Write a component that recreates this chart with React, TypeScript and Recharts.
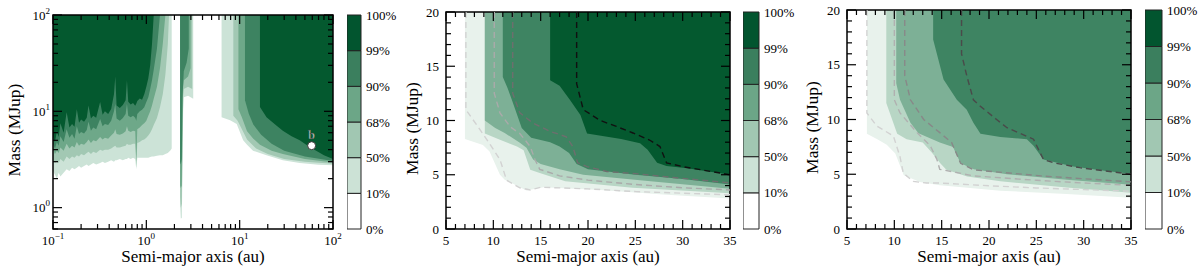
import {
  Area,
  Bar,
  BarChart,
  ComposedChart,
  Label,
  Line,
  ReferenceArea,
  ReferenceDot,
  XAxis,
  YAxis,
} from 'recharts';

const FONT = '"Liberation Serif", "Times New Roman", serif';
const H = 274;

type Pt = [number, number];

// colour bar
const LEVEL_TICKS = ['0%', '10%', '50%', '68%', '90%', '99%', '100%'];
const LEVEL_STEPS = [1, 1, 1, 1, 1, 1];
const BAR_COLOURS = ['#ffffff', '#cce2d6', '#a1c7b2', '#6ca687', '#3b7f5e', '#02552f'];

// ---- panel 1 (log-log), left block: shared a grid, lower mass edge per level
const P1_LEFT_A = [
  0.1, 0.105, 0.11, 0.115, 0.12, 0.13, 0.14, 0.15, 0.16, 0.17, 0.18, 0.19, 0.2, 0.215, 0.23, 0.24, 0.255, 0.27,
  0.29, 0.32, 0.34, 0.36, 0.39, 0.42, 0.45, 0.465, 0.48, 0.52, 0.56, 0.6, 0.62, 0.64, 0.68, 0.72, 0.76, 0.78, 0.8,
  0.85, 0.9, 0.95, 1.0, 1.05, 1.1, 1.15, 1.2, 1.3, 1.4, 1.5, 1.6, 1.7, 1.75, 1.8, 1.87,
];
const P1_LEFT_99 = [
  5.5, 4.8, 6.2, 5.4, 7.5, 6.0, 9.8, 6.8, 7.4, 6.9, 10.5, 7.6, 8.2, 7.8, 8.6, 11.5, 8.4, 9.0, 8.6, 12.5, 9.2, 10.0,
  9.4, 10.6, 15.0, 23.0, 11.5, 10.8, 11.6, 13.0, 21.0, 12.6, 11.8, 12.2, 11.4, 12.0, 12.8, 13.6, 13.2, 15.0, 18.0,
  22.0, 30.0, 50.0, 100,
];
const P1_LEFT_90 = [
  4.6, 4.1, 4.8, 4.4, 5.5, 4.8, 6.5, 5.3, 5.8, 5.2, 7.0, 5.8, 6.1, 5.9, 6.4, 7.8, 6.3, 6.8, 6.5, 8.3, 7.0, 7.4, 7.2,
  8.0, 10.0, 12.0, 8.4, 8.0, 8.5, 9.4, 12.0, 9.0, 8.7, 9.0, 8.6, 8.0, 9.4, 10.0, 10.4, 11.0, 12.5, 14.0, 17.0, 21.0,
  27.0, 45.0, 100,
];
const P1_LEFT_68 = [
  4.0, 3.6, 3.9, 3.7, 4.2, 3.9, 4.6, 4.1, 4.4, 4.2, 4.8, 4.4, 4.6, 4.5, 4.8, 5.1, 4.7, 5.0, 4.9, 5.4, 5.1, 5.3, 5.2,
  5.6, 6.0, 6.5, 5.8, 5.7, 5.9, 6.2, 7.0, 6.3, 6.1, 6.3, 6.2, 3.0, 6.5, 6.8, 7.2, 7.5, 8.0, 9.0, 10.0, 11.5, 13.5,
  18.0, 28.0, 50.0, 100,
];
const P1_LEFT_50 = [
  3.1, 2.9, 3.0, 2.9, 3.2, 3.0, 3.4, 3.2, 3.4, 3.3, 3.5, 3.4, 3.6, 3.5, 3.7, 3.8, 3.6, 3.8, 3.7, 4.0, 3.9, 4.0, 4.0,
  4.1, 4.3, 4.4, 4.2, 4.2, 4.3, 4.4, 4.6, 4.5, 4.5, 4.6, 4.6, 2.6, 4.7, 4.8, 5.0, 5.1, 5.3, 5.6, 6.0, 6.5, 7.2, 8.5,
  11.0, 15.0, 24.0, 50.0, 100,
];
const P1_LEFT_10 = [
  2.4, 2.2, 2.0, 2.3, 2.1, 2.3, 2.5, 2.4, 2.6, 2.5, 2.6, 2.7, 2.6, 2.7, 2.8, 2.7, 2.8, 2.9, 2.8, 2.9, 3.0, 2.9, 3.0,
  3.1, 3.0, 3.1, 3.1, 3.2, 3.1, 3.2, 3.2, 3.3, 3.2, 3.3, 3.2, 2.5, 3.3, 3.3, 3.3, 3.3, 3.3, 3.3, 3.35, 3.4, 3.4, 3.45,
  3.5, 3.5, 3.6, 3.7, 3.8, 3.9, 4.1,
];

// panel 1, narrow strip near 2.5 au
const P1_MID_90: Pt[] = [[2.3, 3.0], [2.34, 2.8], [2.4, 3.2], [2.44, 14], [2.52, 26], [2.7, 32], [2.85, 45]];
const P1_MID_68: Pt[] = [[2.3, 1.7], [2.34, 1.6], [2.4, 1.7], [2.44, 8], [2.48, 18], [2.52, 21], [2.8, 23], [2.98, 28]];
const P1_MID_50: Pt[] = [[2.3, 1.3], [2.34, 1.0], [2.4, 1.1], [2.44, 4], [2.48, 14], [2.52, 17], [2.8, 18], [3.1, 17]];
const P1_MID_10: Pt[] = [[2.3, 1.1], [2.34, 0.77], [2.4, 0.78], [2.44, 2.5], [2.48, 10], [2.52, 14], [2.8, 14.5], [3.18, 13.5]];

// panel 1, outer block
const P1_RIGHT_99: Pt[] = [[16.5, 11.1], [19.4, 8.7], [24, 7.3], [29, 6.3], [36, 5.5], [44, 5.0], [55, 4.3], [66, 3.9], [80, 3.5], [100, 3.2]];
const P1_RIGHT_90: Pt[] = [[11.4, 13], [12.5, 9.5], [14, 7.3], [17, 5.7], [22, 4.6], [30, 3.9], [50, 3.4], [100, 3.05]];
const P1_RIGHT_68: Pt[] = [[9.7, 10.5], [10.5, 8.8], [12, 6.2], [14, 5.2], [16.5, 4.5], [22, 3.9], [29, 3.6], [50, 3.2], [100, 2.95]];
const P1_RIGHT_50: Pt[] = [[8.55, 9.0], [9.5, 8.0], [10.5, 6.6], [12, 5.1], [15, 4.1], [20, 3.6], [30, 3.2], [50, 3.0], [100, 2.85]];
const P1_RIGHT_10: Pt[] = [[6.4, 8.7], [7.9, 8.1], [9.3, 7.4], [10.9, 5.0], [12, 4.5], [13.9, 3.9], [19.4, 3.5], [29, 3.1], [44, 2.9], [70, 2.78], [100, 2.75]];

const P1_PLANET = { a: 59, m: 4.4, name: 'b' };

// ---- panel 2
const P2_99: Pt[] = [[16, 13.7], [17, 13.2], [18.1, 11.9], [19.2, 10.5], [19.9, 8.8], [23.5, 8.3], [25.5, 7.9], [26.3, 7.3], [27.3, 6.1], [28.3, 5.8], [30.5, 5.6], [35, 5.0]];
const P2_90: Pt[] = [[11, 14], [11.5, 13], [12, 11.8], [13, 9.3], [14, 8.4], [16, 8.0], [17, 7.6], [18, 7.0], [18.8, 6.0], [20, 5.5], [25, 5.0], [30, 4.6], [35, 4.1]];
const P2_68: Pt[] = [[9.1, 10.0], [10.2, 9.3], [11.2, 8.85], [12.8, 7.95], [13.5, 7.5], [14.2, 6.4], [15, 6.0], [17, 5.5], [19.5, 5.0], [25.5, 4.5], [35, 3.7]];
const P2_50: Pt[] = [[9.1, 8.8], [10.5, 8.3], [12.5, 7.6], [13.2, 7.25], [13.9, 5.45], [14.9, 5.15], [17.6, 4.4], [24.7, 3.8], [35, 3.3]];
const P2_10: Pt[] = [[7, 8.3], [8.9, 7.75], [9.6, 7.15], [10.7, 5.0], [11.2, 4.55], [13.5, 3.55], [15.3, 3.85], [21.3, 3.6], [28.3, 3.15], [35, 2.8]];
const P2_DASH_A: Pt[] = [[7.1, 20], [7.1, 11], [8.4, 9.4], [9.5, 8.0], [10.7, 6.4], [11.4, 4.5], [12.8, 3.8], [13.9, 3.6], [15, 3.85], [20, 3.7], [25, 3.45], [30, 3.3], [35, 3.15]];
const P2_DASH_B: Pt[] = [[10.1, 20], [10.1, 12.5], [10.7, 10.7], [11.8, 9.4], [12.8, 8.8], [13.9, 7.6], [14.4, 6.4], [14.9, 5.5], [17, 4.9], [20, 4.5], [25, 4.1], [30, 3.8], [35, 3.6]];
const P2_DASH_C: Pt[] = [[12.05, 20], [12.05, 12.5], [12.8, 10.7], [14.2, 9.75], [16, 9.0], [17.7, 8.5], [18.4, 7.6], [18.9, 6.1], [19.9, 5.75], [22, 5.3], [25, 5.1], [29, 4.75], [35, 4.25]];
const P2_DASH_D: Pt[] = [[18.8, 20], [18.8, 13.4], [19.5, 11.0], [21.3, 10.0], [23, 9.45], [24.75, 8.85], [26.5, 8.2], [27.6, 7.6], [28.3, 6.1], [30, 5.75], [35, 5.0]];

// ---- panel 3
const P3_90: Pt[] = [[14.1, 17.3], [15.2, 13.65], [16.6, 11.8], [17.65, 10.9], [18.35, 9.7], [19.1, 8.7], [21.2, 8.4], [24, 8.2], [24.7, 7.6], [25.75, 6.35], [28.9, 5.7], [32.4, 5.3], [35, 5.05]];
const P3_68: Pt[] = [[10.2, 13.3], [10.6, 11.8], [11.7, 9.7], [12.55, 8.75], [14.8, 7.9], [16.2, 7.5], [17, 6.0], [18.4, 5.45], [21.9, 5.0], [28.2, 4.5], [35, 4.05]];
const P3_50: Pt[] = [[9.15, 11.5], [10.3, 8.7], [11.3, 8.2], [13, 7.9], [14, 6.95], [14.85, 6.0], [15.5, 5.4], [17.7, 4.8], [21.2, 4.35], [28.2, 3.8], [35, 3.3]];
const P3_10: Pt[] = [[7.1, 8.7], [8.2, 8.2], [9.2, 7.7], [10.1, 6.9], [11, 4.9], [12.7, 4.3], [14.8, 4.0], [21.2, 3.5], [28.2, 3.2], [35, 2.85]];
const P3_DASH_A: Pt[] = [[7.1, 20], [7.1, 10.6], [8.15, 9.4], [9.9, 8.5], [10.6, 6.6], [10.95, 5.1], [12, 4.35], [13.4, 4.2], [14.8, 4.2], [20, 3.95], [25, 3.75], [30, 3.6], [35, 3.45]];
const P3_DASH_B: Pt[] = [[10, 20], [10, 11.8], [10.6, 10.6], [12.4, 8.8], [13.8, 7.6], [14.5, 6.35], [14.8, 5.45], [18.4, 4.85], [25, 4.45], [30, 4.2], [35, 4.0]];
const P3_DASH_C: Pt[] = [[11.1, 20], [11.1, 14], [11.7, 11.8], [13.1, 10], [14.8, 8.8], [16.05, 7.9], [17, 6.0], [18.4, 5.4], [25.5, 4.85], [35, 4.3]];
const P3_DASH_D: Pt[] = [[17.1, 20], [17.1, 16], [17.65, 14], [18.35, 11.8], [19.1, 11.2], [20.8, 10], [21.9, 9.25], [24.7, 8.2], [25.75, 6.35], [26.8, 6.05], [29.6, 5.6], [35, 5.0]];

// ticks
const LOG_X_TICKS = [0.1, 0.2, 0.3, 0.4, 0.5, 0.6, 0.7, 0.8, 0.9, 1, 2, 3, 4, 5, 6, 7, 8, 9, 10, 20, 30, 40, 50, 60, 70, 80, 90, 100];
const LOG_X_MAJOR = [0.1, 1, 10, 100];
const LOG_Y_TICKS = [0.6, 0.7, 0.8, 0.9, 1, 2, 3, 4, 5, 6, 7, 8, 9, 10, 20, 30, 40, 50, 60, 70, 80, 90, 100];
const LOG_Y_MAJOR = [1, 10, 100];
const LIN_X_TICKS = [5, 6, 7, 8, 9, 10, 11, 12, 13, 14, 15, 16, 17, 18, 19, 20, 21, 22, 23, 24, 25, 26, 27, 28, 29, 30, 31, 32, 33, 34, 35];
const LIN_X_MAJOR = [5, 10, 15, 20, 25, 30, 35];
const LIN_Y_TICKS = [0, 1, 2, 3, 4, 5, 6, 7, 8, 9, 10, 11, 12, 13, 14, 15, 16, 17, 18, 19, 20];
const LIN_Y_MAJOR = [0, 5, 10, 15, 20];

type Cfg = {
  origin: number;
  width: number;
  plot: { l: number; r: number; t: number; b: number };
  log: boolean;
  xDomain: [number, number];
  yDomain: [number, number];
  xTicks: number[];
  xMajor: number[];
  yTicks: number[];
  yMajor: number[];
  yLabelX: number;
  bar: { l: number; r: number };
};
type Band = { pts: Pt[]; color: string };
type Dash = { pts: Pt[]; color: string };

const zip = (a: number[], m: number[]): Pt[] => m.map((v, i) => [a[i], v]);

function tickText(v: number, log: boolean, x: number, y: number, anchor: 'middle' | 'end') {
  const e = Math.round(Math.log10(v));
  return (
    <text x={x} y={y} textAnchor={anchor} fontSize={13} fontFamily={FONT} fill="#000">
      {log ? '10' : String(v)}
      {log && (
        <tspan dy={-6} fontSize={9}>
          {e < 0 ? `\u2212${-e}` : e}
        </tspan>
      )}
    </text>
  );
}

function Panel({ cfg, bands, dashes, planet }: { cfg: Cfg; bands: Band[]; dashes: Dash[]; planet?: typeof P1_PLANET }) {
  const { plot } = cfg;
  const top = cfg.yDomain[1];

  const xTick = (p: any) => {
    const v = p.payload.value;
    const major = cfg.xMajor.includes(v);
    const len = major ? 9 : 5;
    return (
      <g>
        <line x1={p.x} x2={p.x} y1={plot.b} y2={plot.b - len} stroke="#000" strokeWidth={1.2} />
        <line x1={p.x} x2={p.x} y1={plot.t} y2={plot.t + len} stroke="#000" strokeWidth={1.2} />
        {major && tickText(v, cfg.log, p.x, plot.b + 16, 'middle')}
      </g>
    );
  };
  const yTick = (p: any) => {
    const v = p.payload.value;
    const major = cfg.yMajor.includes(v);
    const len = major ? 9 : 5;
    return (
      <g>
        <line x1={plot.l} x2={plot.l + len} y1={p.y} y2={p.y} stroke="#000" strokeWidth={1.2} />
        <line x1={plot.r} x2={plot.r - len} y1={p.y} y2={p.y} stroke="#000" strokeWidth={1.2} />
        {major && tickText(v, cfg.log, plot.l - (cfg.log ? 3 : 7), p.y + 4.5, 'end')}
      </g>
    );
  };
  // rotated y title, sits a little below the plot's middle as in the source figure
  const yTitle = () => {
    const x = cfg.yLabelX + 6;
    const y = (plot.t + plot.b) / 2 + 8;
    return (
      <text x={x} y={y} transform={`rotate(-90 ${x} ${y})`} textAnchor="middle" fontSize={17.5} fontFamily={FONT} fill="#000">
        Mass (MJup)
      </text>
    );
  };

  return (
    <div style={{ position: 'absolute', left: cfg.origin, top: 0 }}>
      <ComposedChart width={cfg.width} height={H} margin={{ top: plot.t, right: cfg.width - plot.r, bottom: 0, left: 0 }}>
        <XAxis
          dataKey="a"
          type="number"
          scale={cfg.log ? 'log' : 'linear'}
          domain={cfg.xDomain}
          allowDataOverflow
          ticks={cfg.xTicks}
          interval={0}
          height={H - plot.b}
          tickSize={0}
          tickMargin={0}
          axisLine={false}
          tickLine={false}
          tick={xTick}
        >
          <Label
            value="Semi-major axis (au)"
            position="insideBottom"
            offset={12}
            fill="#000"
            style={{ fontFamily: FONT, fontSize: 17 }}
          />
        </XAxis>
        <YAxis
          type="number"
          scale={cfg.log ? 'log' : 'linear'}
          domain={cfg.yDomain}
          allowDataOverflow
          ticks={cfg.yTicks}
          interval={0}
          width={plot.l}
          tickSize={0}
          tickMargin={0}
          axisLine={false}
          tickLine={false}
          tick={yTick}
        >
          <Label value="Mass (MJup)" content={yTitle} />
        </YAxis>
        {bands.map((b, i) => (
          <Area
            key={`b${i}`}
            data={b.pts.map(([a, m]) => ({ a, band: [m, top] }))}
            dataKey="band"
            type="linear"
            stroke="none"
            fill={b.color}
            fillOpacity={1}
            dot={false}
            activeDot={false}
            isAnimationActive={false}
          />
        ))}
        {dashes.map((d, i) => (
          <Line
            key={`d${i}`}
            data={d.pts.map(([a, m]) => ({ a, m }))}
            dataKey="m"
            type="linear"
            stroke={d.color}
            strokeWidth={1.4}
            strokeDasharray="6 4"
            dot={false}
            activeDot={false}
            isAnimationActive={false}
          />
        ))}
        {planet && (
          <ReferenceDot
            x={planet.a}
            y={planet.m}
            r={4}
            fill="#fff"
            stroke="#333"
            strokeWidth={1}
            label={{ value: planet.name, position: 'top', offset: 3, fill: '#fff', stroke: '#444', strokeWidth: 0.4, fontSize: 13, fontFamily: FONT }}
          />
        )}
        <ReferenceArea
          x1={cfg.xDomain[0]}
          x2={cfg.xDomain[1]}
          y1={cfg.yDomain[0]}
          y2={cfg.yDomain[1]}
          fill="none"
          fillOpacity={0}
          stroke="#000"
          strokeWidth={1.5}
        />
      </ComposedChart>
    </div>
  );
}

function ColourBar({ left, right, t, b }: { left: number; right: number; t: number; b: number }) {
  const row: Record<string, number | string> = { name: 'levels' };
  LEVEL_STEPS.forEach((s, i) => (row[`s${i}`] = s));
  return (
    <div style={{ position: 'absolute', left, top: 0 }}>
      <BarChart width={right - left + 45} height={H} data={[row]} margin={{ top: t, right: 0, bottom: H - b, left: 0 }} barCategoryGap={0}>
        <XAxis dataKey="name" hide />
        <YAxis
          orientation="right"
          type="number"
          domain={[0, LEVEL_STEPS.length]}
          ticks={LEVEL_TICKS.map((_, i) => i)}
          interval={0}
          width={45}
          tickSize={0}
          tickMargin={5}
          axisLine={false}
          tickLine={false}
          tick={{ fill: '#000', fontSize: 13, fontFamily: FONT }}
          tickFormatter={(v: number) => LEVEL_TICKS[v]}
        />
        {LEVEL_STEPS.map((_, i) => (
          <Bar key={i} dataKey={`s${i}`} stackId="cb" fill={BAR_COLOURS[i]} stroke="#222" strokeWidth={1} isAnimationActive={false} />
        ))}
      </BarChart>
    </div>
  );
}

const P1: Cfg = {
  origin: 0,
  width: 346,
  plot: { l: 53, r: 333, t: 15, b: 229 },
  log: true,
  xDomain: [0.1, 100],
  yDomain: [0.6, 100],
  xTicks: LOG_X_TICKS,
  xMajor: LOG_X_MAJOR,
  yTicks: LOG_Y_TICKS,
  yMajor: LOG_Y_MAJOR,
  yLabelX: 14,
  bar: { l: 347, r: 361 },
};
const P2: Cfg = {
  origin: 400,
  width: 342,
  plot: { l: 46, r: 330, t: 12, b: 229 },
  log: false,
  xDomain: [5, 35],
  yDomain: [0, 20],
  xTicks: LIN_X_TICKS,
  xMajor: LIN_X_MAJOR,
  yTicks: LIN_Y_TICKS,
  yMajor: LIN_Y_MAJOR,
  yLabelX: 11.5,
  bar: { l: 743, r: 759 },
};
const P3: Cfg = { ...P2, origin: 800, plot: { l: 47, r: 331, t: 10, b: 229 }, bar: { l: 1145, r: 1162 } };

const C1 = ['#cce3d7', '#a2c8b3', '#6ea889', '#3d8361', '#04592f'];
const C2 = ['#e8f2ec', '#b8d6c5', '#7db096', '#3e8462', '#04592f'];

export default function App() {
  const p1Bands: Band[] = [
    { pts: zip(P1_LEFT_A, P1_LEFT_10), color: C1[0] },
    { pts: zip(P1_LEFT_A, P1_LEFT_50), color: C1[1] },
    { pts: zip(P1_LEFT_A, P1_LEFT_68), color: C1[2] },
    { pts: zip(P1_LEFT_A, P1_LEFT_90), color: C1[3] },
    { pts: zip(P1_LEFT_A, P1_LEFT_99), color: C1[4] },
    { pts: P1_MID_10, color: C1[0] },
    { pts: P1_MID_50, color: C1[1] },
    { pts: P1_MID_68, color: C1[2] },
    { pts: P1_MID_90, color: C1[3] },
    { pts: P1_RIGHT_10, color: C1[0] },
    { pts: P1_RIGHT_50, color: C1[1] },
    { pts: P1_RIGHT_68, color: C1[2] },
    { pts: P1_RIGHT_90, color: C1[3] },
    { pts: P1_RIGHT_99, color: C1[4] },
  ];
  const p2Bands: Band[] = [P2_10, P2_50, P2_68, P2_90, P2_99].map((pts, i) => ({ pts, color: C2[i] }));
  const p3Bands: Band[] = [P3_10, P3_50, P3_68, P3_90].map((pts, i) => ({ pts, color: C2[i] }));
  const p2Dashes: Dash[] = [
    { pts: P2_DASH_A, color: '#d2d2d2' },
    { pts: P2_DASH_B, color: '#aaaaaa' },
    { pts: P2_DASH_C, color: '#6e6e6e' },
    { pts: P2_DASH_D, color: '#111111' },
  ];
  const p3Dashes: Dash[] = [
    { pts: P3_DASH_A, color: '#d2d2d2' },
    { pts: P3_DASH_B, color: '#b0b0b0' },
    { pts: P3_DASH_C, color: '#888888' },
    { pts: P3_DASH_D, color: '#4a4a4a' },
  ];

  return (
    <div style={{ position: 'absolute', left: 0, top: 0, width: 1200, height: H, background: '#fff', fontFamily: FONT }}>
      <Panel cfg={P1} bands={p1Bands} dashes={[]} planet={P1_PLANET} />
      <Panel cfg={P2} bands={p2Bands} dashes={p2Dashes} />
      <Panel cfg={P3} bands={p3Bands} dashes={p3Dashes} />
      {[P1, P2, P3].map((c, i) => (
        <ColourBar key={i} left={c.bar.l} right={c.bar.r} t={c.plot.t} b={c.plot.b} />
      ))}
    </div>
  );
}
